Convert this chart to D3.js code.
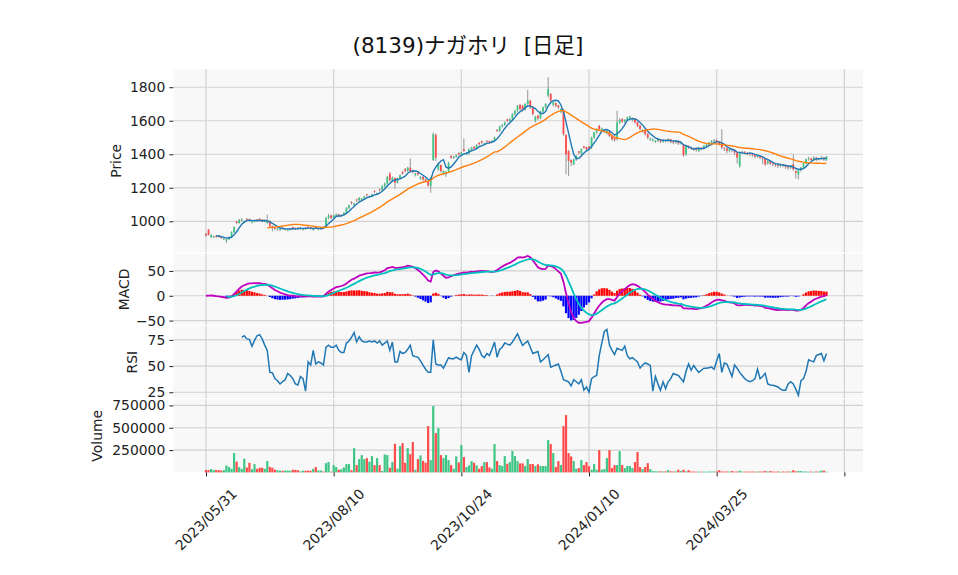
<!DOCTYPE html>
<html><head><meta charset="utf-8">
<script src="https://cdn.jsdelivr.net/npm/d3@7"></script>
<style>body{margin:0;background:#fff;} svg text{font-family:"DejaVu Sans",sans-serif;}</style>
</head><body><svg id="c" width="958" height="575"></svg>
<script>
const title = "(8139)ナガホリ  [日足]";
const xTickIdx = [0, 50, 100, 150, 200, 250];
const xTickLabels = ["2023/05/31", "2023/08/10", "2023/10/24", "2024/01/10", "2024/03/25", ""];
const priceTicks = [1000, 1200, 1400, 1600, 1800];
const macdTicks = [-50, 0, 50];
const rsiTicks = [25, 50, 75];
const volTicks = [250000, 500000, 750000];

const opens = [
925,950,905,905,912,914,908,892,885,893,
905,935,998,990,1005,995,1015,1012,992,998,
1010,1015,1010,998,990,1000,972,962,952,948,
962,950,946,950,965,960,962,956,950,962,
966,963,950,964,952,954,966,965,1020,1035,
1020,1033,1042,1030,1038,1050,1080,1115,1098,1130,
1125,1128,1135,1160,1145,1150,1180,1165,1190,1188,
1210,1225,1285,1245,1258,1230,1255,1295,1310,1300,
1320,1305,1275,1290,1255,1265,1250,1238,1210,1366,
1515,1310,1335,1285,1280,1300,1390,1378,1385,1408,
1400,1430,1398,1405,1430,1445,1435,1468,1478,1458,
1480,1478,1470,1480,1545,1540,1565,1575,1608,1598,
1610,1640,1660,1695,1690,1665,1700,1720,1680,1600,
1630,1615,1655,1680,1750,1760,1695,1705,1692,1655,
1665,1515,1420,1365,1340,1370,1418,1405,1448,1442,
1445,1440,1500,1530,1570,1540,1535,1525,1535,1510,
1495,1490,1590,1610,1595,1605,1615,1605,1612,1592,
1572,1535,1545,1522,1488,1482,1475,1480,1490,1475,
1485,1480,1490,1478,1470,1480,1465,1460,1400,1450,
1440,1435,1430,1420,1440,1435,1450,1460,1470,1480,
1485,1475,1465,1440,1435,1420,1430,1425,1410,1330,
1410,1415,1410,1405,1400,1395,1385,1390,1380,1375,
1345,1360,1345,1340,1335,1330,1340,1335,1325,1320,
1340,1300,1280,1305,1320,1345,1370,1375,1365,1380,
1370,1375,1380,1365];
const highs = [
930,955,925,915,915,918,910,900,898,910,
940,970,1002,1015,1020,1005,1020,1016,1002,1012,
1014,1020,1014,1010,1040,1005,975,965,962,955,
966,960,955,960,968,964,966,966,958,966,
970,966,958,968,958,962,970,1025,1045,1040,
1040,1048,1046,1042,1055,1085,1100,1120,1112,1135,
1145,1140,1152,1165,1155,1165,1185,1172,1195,1215,
1232,1270,1295,1268,1262,1260,1280,1300,1318,1325,
1375,1310,1290,1295,1270,1270,1255,1242,1265,1530,
1525,1350,1340,1305,1300,1355,1395,1390,1400,1412,
1415,1495,1410,1435,1445,1450,1460,1472,1482,1470,
1485,1482,1485,1505,1550,1570,1580,1595,1612,1615,
1645,1665,1695,1700,1695,1705,1785,1725,1685,1630,
1635,1660,1685,1705,1860,1765,1715,1710,1695,1675,
1670,1520,1425,1370,1375,1395,1420,1435,1450,1445,
1450,1505,1535,1555,1575,1560,1550,1545,1538,1515,
1500,1660,1615,1615,1610,1625,1630,1620,1615,1595,
1575,1550,1548,1525,1500,1495,1485,1495,1492,1490,
1488,1495,1492,1482,1485,1483,1475,1462,1455,1452,
1445,1440,1435,1445,1442,1455,1465,1475,1485,1490,
1488,1478,1550,1442,1438,1435,1432,1428,1412,1415,
1420,1418,1412,1408,1402,1398,1395,1392,1385,1378,
1365,1363,1350,1345,1340,1345,1343,1338,1330,1335,
1400,1305,1310,1325,1350,1375,1385,1380,1388,1385,
1380,1390,1384,1390];
const lows = [
908,915,900,900,902,902,895,888,870,888,
900,930,985,985,1000,990,1002,998,988,994,
996,1005,995,994,985,965,940,948,945,942,
952,945,940,945,955,948,952,950,945,952,
958,950,944,955,946,948,955,960,1012,1012,
1015,1028,1025,1025,1032,1045,1072,1100,1092,1115,
1118,1120,1128,1148,1140,1145,1168,1160,1178,1182,
1200,1218,1238,1235,1195,1225,1248,1278,1292,1295,
1292,1285,1268,1272,1248,1240,1232,1205,1170,1360,
1360,1300,1290,1275,1265,1290,1372,1372,1378,1390,
1395,1412,1395,1398,1422,1428,1428,1452,1462,1452,
1468,1462,1465,1475,1532,1532,1560,1570,1592,1592,
1600,1630,1650,1660,1655,1660,1695,1670,1632,1590,
1605,1610,1648,1672,1740,1705,1685,1680,1670,1645,
1510,1280,1270,1330,1335,1360,1400,1395,1432,1420,
1425,1432,1492,1522,1540,1532,1528,1518,1502,1480,
1475,1482,1580,1588,1585,1598,1608,1595,1582,1562,
1542,1528,1512,1490,1480,1475,1468,1472,1468,1468,
1470,1472,1465,1460,1462,1455,1458,1385,1392,1432,
1425,1420,1415,1412,1425,1428,1442,1452,1462,1472,
1465,1452,1430,1420,1405,1412,1412,1395,1345,1320,
1402,1400,1395,1390,1385,1375,1378,1370,1340,1330,
1338,1335,1328,1325,1318,1322,1322,1312,1305,1312,
1302,1255,1250,1295,1312,1340,1362,1355,1360,1358,
1362,1368,1360,1360];
const closes = [
915,920,918,910,906,908,900,897,893,905,
935,965,990,1008,1012,1000,1010,1005,998,1008,
1002,1010,1000,1005,998,972,962,955,958,952,
958,955,950,956,960,953,958,962,955,958,
963,957,954,960,956,958,962,1020,1035,1020,
1035,1040,1030,1038,1050,1080,1095,1110,1105,1125,
1140,1135,1148,1155,1150,1160,1175,1168,1185,1210,
1225,1265,1245,1260,1230,1255,1275,1285,1300,1320,
1300,1295,1285,1280,1265,1250,1240,1215,1260,1520,
1380,1340,1300,1300,1295,1350,1380,1385,1395,1400,
1410,1420,1405,1430,1440,1435,1455,1460,1470,1465,
1475,1470,1480,1500,1540,1565,1575,1590,1600,1610,
1640,1660,1690,1670,1665,1700,1720,1680,1640,1625,
1615,1655,1680,1700,1790,1720,1710,1690,1680,1670,
1520,1400,1360,1350,1370,1390,1410,1430,1440,1430,
1435,1500,1530,1550,1550,1555,1545,1540,1510,1490,
1485,1590,1605,1595,1605,1620,1625,1615,1590,1570,
1550,1545,1520,1500,1495,1490,1480,1490,1475,1485,
1480,1490,1475,1470,1480,1465,1470,1395,1450,1440,
1435,1430,1425,1440,1435,1450,1460,1470,1480,1485,
1475,1460,1440,1435,1420,1430,1425,1410,1380,1410,
1415,1410,1405,1400,1395,1385,1390,1380,1375,1340,
1360,1345,1340,1335,1330,1340,1335,1325,1320,1330,
1310,1290,1305,1320,1345,1370,1375,1365,1380,1370,
1375,1380,1370,1385];
const volumes = [
26000,26000,37000,26000,26000,26000,20000,26000,78000,60000,
40000,216000,120000,60000,40000,153000,55000,108000,35000,93000,
40000,52000,52000,40000,127000,62000,52000,30000,25000,20000,
18000,20000,22000,18000,30000,28000,25000,12000,20000,18000,
20000,18000,40000,60000,22000,22000,10000,104000,116000,8000,
82000,60000,30000,35000,55000,93000,93000,25000,272000,82000,
149000,194000,149000,160000,119000,183000,82000,160000,82000,15000,
201000,194000,52000,116000,321000,41000,295000,328000,108000,272000,
205000,340000,30000,149000,190000,130000,108000,519000,138000,743000,
440000,496000,194000,160000,194000,138000,82000,41000,179000,112000,
306000,172000,60000,78000,127000,108000,78000,41000,71000,115000,
115000,56000,41000,317000,127000,82000,71000,183000,97000,116000,
239000,183000,127000,101000,101000,71000,149000,93000,93000,71000,
90000,71000,71000,71000,362000,317000,216000,60000,127000,82000,
519000,642000,216000,179000,127000,41000,48000,138000,82000,116000,
71000,30000,93000,30000,250000,30000,37000,160000,250000,48000,
82000,82000,239000,82000,48000,71000,71000,48000,116000,228000,
60000,37000,60000,104000,37000,15000,12000,12000,12000,10000,
12000,25000,12000,10000,12000,30000,15000,30000,12000,25000,
10000,10000,8000,10000,8000,10000,8000,10000,10000,10000,
10000,25000,10000,10000,10000,10000,15000,10000,10000,20000,
10000,8000,10000,8000,10000,8000,10000,10000,10000,15000,
10000,15000,10000,8000,10000,8000,10000,8000,10000,10000,
25000,12000,15000,15000,10000,10000,8000,10000,8000,10000,
10000,20000,20000,8000];
// RSI(14), first value at day index 14
const rsiStart = 14;
const rsiValues = [
77.5,79,76,75.5,69,74.5,79,80,76,70,
65,44,43.5,38,36,33,35,37,43,41,
38,33,32,40,38,26,54,51,65,52,
54,53,51,68,70,68,68,70,65,63,
63,72,74,77.5,82,73,78,74,73,73,
74,73,74,72,74,70,72,74,65,73,
54,54,64,62,63,66,70,60,59,58.5,
55,51,47,44,44,75,52,51,51,48,
53,58,57,57,58.5,57,56,63,60,44,
60,65,70,66,60,58,62,60,66,73,
58.5,66,68,72,71,70,73,77,80.7,75,
69.6,72,74,68,62,63,64,54,56,58.5,
61,49,50,51,52,45,37,36,35,31,
37,35,33,37,27,30,25,38,40,41,
60,72,83,85,70,65,61,67,66,65,
69,60,57,58,56,54,48,51,53,52,
50.6,26,40,33,27,35,28.5,35,38,43,
42,41,38,35,45,52,46,50.6,47,44,
46,48,48,48.5,49,47,55,62,44,53,
52,46,40,51,48,44,41,38,36,35,
36,38,47,38,40,43,33,32,31.7,31,
30,28,27,27,33,35,33,28,22,36,
38,45,56,55,54,60,61,62,55,62];

// ---- indicators drawn by the original chart: MA5, MA25, MACD 12/26/9 ----
function sma(a, n) { return a.map((v, i) => i < n - 1 ? null : d3.mean(a.slice(i - n + 1, i + 1))); }
function ema(a, n) { const k = 2 / (n + 1); const o = []; a.forEach((v, i) => o.push(i === 0 ? v : v * k + o[i - 1] * (1 - k))); return o; }
const ma5 = sma(closes, 5), ma25 = sma(closes, 25);
const e12 = ema(closes, 12), e26 = ema(closes, 26);
const macd = e12.map((v, i) => v - e26[i]);
const sig = ema(macd, 9);
const hist = macd.map((v, i) => v - sig[i]);
const rsi = closes.map((c, i) => i < rsiStart ? null : rsiValues[i - rsiStart]);

// ---- layout ----
const svg = d3.select("#c");
const L = 173.3, R = 863;
const P = { price: [69.3, 252.3], macd: [253.6, 325.2], rsi: [326.2, 398.2], vol: [399.2, 472.4] };
const x = d3.scaleLinear().domain([-12.8, 257.3]).range([L, R]);
const yP = d3.scaleLinear().domain([815, 1907]).range([P.price[1], P.price[0]]);
const yM = d3.scaleLinear().domain([-59.3, 84.9]).range([P.macd[1], P.macd[0]]);
const yR = d3.scaleLinear().domain([19.3, 88.1]).range([P.rsi[1], P.rsi[0]]);
const yV = d3.scaleLinear().domain([0, 820000]).range([P.vol[1], P.vol[0]]);

const UP = "#3fc585", DN = "#fe4b4b", GRID = "#d2d2d2", BG = "#f8f8f8";

function panel(key, yScale, ticks, fmt, label, labelX) {
  const [t, b] = P[key];
  const g = svg.append("g");
  g.append("rect").attr("x", L).attr("y", t).attr("width", R - L).attr("height", b - t).attr("fill", BG);
  g.selectAll(".vg").data(xTickIdx).join("line")
    .attr("x1", d => x(d)).attr("x2", d => x(d)).attr("y1", t).attr("y2", b)
    .attr("stroke", GRID).attr("stroke-width", 1.2);
  g.selectAll(".hg").data(ticks).join("line")
    .attr("x1", L).attr("x2", R).attr("y1", d => yScale(d)).attr("y2", d => yScale(d))
    .attr("stroke", GRID).attr("stroke-width", 1.2);
  const ax = svg.append("g").attr("transform", `translate(${L},0)`)
    .call(d3.axisLeft(yScale).tickValues(ticks).tickFormat(fmt).tickSize(4).tickPadding(4));
  ax.select(".domain").remove();
  ax.selectAll("text").attr("font-size", 13.9).attr("fill", "#222").attr("font-family", "DejaVu Sans");
  ax.selectAll("line").attr("stroke", "#222");
  svg.append("text").attr("transform", `translate(${labelX},${(t + b) / 2}) rotate(-90)`)
    .attr("text-anchor", "middle").attr("dominant-baseline", "central")
    .attr("font-size", 13.9).attr("fill", "#222").text(label);
  return g;
}
const minusFmt = d => d < 0 ? "\u2212" + Math.abs(d) : String(d);
panel("price", yP, priceTicks, d => String(d), "Price", 116);
panel("macd", yM, macdTicks, minusFmt, "MACD", 124);
panel("rsi", yR, rsiTicks, d => String(d), "RSI", 132);
panel("vol", yV, volTicks, d => String(d), "Volume", 97);

const idx = d3.range(closes.length);
const bw = 1.8;

// price: candles
const gc = svg.append("g");
gc.selectAll(".w").data(idx).join("line")
  .attr("x1", i => x(i)).attr("x2", i => x(i))
  .attr("y1", i => yP(highs[i])).attr("y2", i => yP(lows[i]))
  .attr("stroke", "#8a8a8a").attr("stroke-width", 0.9);
gc.selectAll(".b").data(idx).join("rect")
  .attr("x", i => x(i) - bw / 2).attr("width", bw)
  .attr("y", i => yP(Math.max(opens[i], closes[i])))
  .attr("height", i => Math.max(0.8, Math.abs(yP(opens[i]) - yP(closes[i]))))
  .attr("fill", i => closes[i] >= opens[i] ? UP : DN);

function pathOf(arr, ys, start) {
  return d3.line().defined(i => arr[i] != null && i >= start).x(i => x(i)).y(i => ys(arr[i]))(idx);
}
svg.append("path").attr("d", pathOf(ma5, yP, 4)).attr("fill", "none").attr("stroke", "#1f77b4").attr("stroke-width", 1.4);
svg.append("path").attr("d", pathOf(ma25, yP, 24)).attr("fill", "none").attr("stroke", "#ff7f0e").attr("stroke-width", 1.4);

// MACD
svg.append("g").selectAll("rect").data(idx.filter(i => i >= 8)).join("rect")
  .attr("x", i => x(i) - 1.1).attr("width", 2.2)
  .attr("y", i => Math.min(yM(0), yM(hist[i])))
  .attr("height", i => Math.abs(yM(hist[i]) - yM(0)))
  .attr("fill", i => hist[i] >= 0 ? "#ff0000" : "#0000ff");
svg.append("path").attr("d", pathOf(macd, yM, 0)).attr("fill", "none").attr("stroke", "#bf00bf").attr("stroke-width", 1.8);
svg.append("path").attr("d", pathOf(sig, yM, 8)).attr("fill", "none").attr("stroke", "#00bfbf").attr("stroke-width", 1.8);

// RSI
svg.append("path").attr("d", pathOf(rsi, yR, rsiStart)).attr("fill", "none").attr("stroke", "#1f77b4").attr("stroke-width", 1.5);

// Volume
svg.append("g").selectAll("rect").data(idx).join("rect")
  .attr("x", i => x(i) - 1.1).attr("width", 2.2)
  .attr("y", i => yV(volumes[i])).attr("height", i => yV(0) - yV(volumes[i]))
  .attr("fill", i => closes[i] >= opens[i] ? UP : DN);

// x axis
const xa = svg.append("g").attr("transform", `translate(0,${P.vol[1]})`)
  .call(d3.axisBottom(x).tickValues(xTickIdx).tickFormat(() => "").tickSize(4));
xa.select(".domain").remove();
xa.selectAll("line").attr("stroke", "#222");
svg.append("g").selectAll("text").data(xTickIdx.filter((d, k) => xTickLabels[k] !== "")).join("text")
  .attr("transform", d => `translate(${x(d)},${P.vol[1] + 47}) rotate(-45)`)
  .attr("text-anchor", "middle").attr("dominant-baseline", "central")
  .attr("font-size", 13.9).attr("fill", "#222")
  .text(d => xTickLabels[xTickIdx.indexOf(d)]);

// title
svg.append("text").attr("x", 468).attr("y", 53).attr("text-anchor", "middle")
  .attr("font-size", 21.5).attr("fill", "#111")
  .attr("xml:space", "preserve").style("white-space", "pre")
  .style("font-family", "'DejaVu Sans','Noto Sans CJK JP',sans-serif")
  .text(title);
</script></body></html>
